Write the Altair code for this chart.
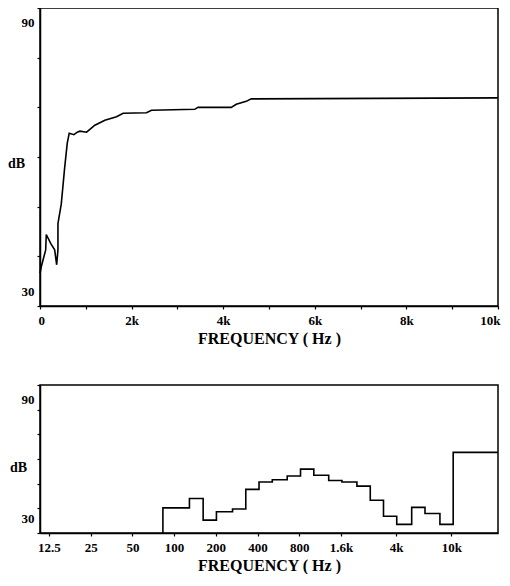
import altair as alt
import pandas as pd

# ---- top chart: narrow-band spectrum (Hz, dB)
top_freq_hz = [0, 28, 124, 137, 233, 320, 364, 392, 392, 464, 538, 595, 638, 741, 813, 871,
               1017, 1198, 1416, 1671, 1815, 2325, 2434, 3377, 3449, 4176, 4285, 4503, 4612, 10000]
top_db = [36.6, 37.9, 41.3, 44.4, 42.6, 41.3, 38.3, 41.3, 46.6, 50.5, 57.8, 62.8, 64.8, 64.5, 65.0, 65.2,
          65.0, 66.4, 67.4, 68.1, 68.8, 68.9, 69.4, 69.6, 70.0, 70.0, 70.6, 71.2, 71.7, 71.9]
top_tick_values = [0, 1000, 2000, 3000, 4000, 5000, 6000, 7000, 8000, 9000, 10000]
top_tick_labels = ["0", "", "2k", "", "4k", "", "6k", "", "8k", "", "10k"]

# ---- bottom chart: 1/3-octave band levels (band lower edges in Hz, dB)
band_edges_hz = [83, 129, 162, 202, 264, 329, 410, 511, 655, 817, 1019, 1305, 1626, 2085,
                 2603, 3243, 4041, 5181, 6463, 8283, 10325]
band_db = [40.2, 44.0, 35.2, 38.6, 39.7, 47.7, 50.7, 51.6, 53.1, 55.9, 53.4, 51.3, 50.7, 49.0,
           43.3, 36.8, 33.5, 40.4, 37.9, 33.5, 62.7]
band_end_hz = 21740
bottom_tick_values = [12.5, 25, 50, 100, 200, 400, 800, 1600, 4000, 10000]
bottom_tick_labels = ["12.5", "25", "50", "100", "200", "400", "800", "1.6k", "4k", "10k"]

y_ticks = [30, 40, 50, 60, 70, 80, 90]
y_labels = ["30", "", "", "", "", "", "90"]


def label_expr(values, labels):
    s = ""
    for v, l in zip(values, labels):
        s += f"datum.value == {v} ? '{l}' : "
    return s + "''"


FONT = "Liberation Serif"

top_df = pd.DataFrame({"f": top_freq_hz, "db": top_db, "i": range(len(top_db))})

step_f = [band_edges_hz[0]] + band_edges_hz + [band_end_hz]
step_db = [30] + band_db + [band_db[-1]]
bot_df = pd.DataFrame({"f": step_f, "db": step_db, "i": range(len(step_db))})


def y_axis(title_x, title_y):
    return alt.Axis(
        title="dB", titleAngle=0, titleX=title_x, titleY=title_y, titleAlign="center",
        titleBaseline="middle", titleFontSize=14, values=y_ticks,
        labelExpr=label_expr(y_ticks, y_labels),
        labelFlush=True, labelFlushOffset=-8, tickSize=3, labelPadding=3, grid=False,
    )


def x_axis(values, labels):
    return alt.Axis(title="FREQUENCY ( Hz )", values=values,
                    labelExpr=label_expr(values, labels),
                    tickSize=3, labelPadding=5, titlePadding=3, grid=False,
                    labelFlush=True, labelFlushOffset=2)


top = alt.Chart(top_df).mark_line(color="black", strokeWidth=1.6).encode(
    x=alt.X("f:Q", scale=alt.Scale(domain=[0, 10000], nice=False),
            axis=x_axis(top_tick_values, top_tick_labels)),
    y=alt.Y("db:Q", scale=alt.Scale(domain=[30, 90], nice=False, zero=False),
            axis=y_axis(-24, 155)),
    order="i:O",
).properties(width=458, height=298)

bottom = alt.Chart(bot_df).mark_line(color="black", strokeWidth=1.6, interpolate="step-after").encode(
    x=alt.X("f:Q", scale=alt.Scale(type="log", domain=[10.77, 21740], nice=False),
            axis=x_axis(bottom_tick_values, bottom_tick_labels)),
    y=alt.Y("db:Q", scale=alt.Scale(domain=[30, 90], nice=False, zero=False),
            axis=y_axis(-22, 82)),
    order="i:O",
).properties(width=458, height=148)

chart = alt.vconcat(top, bottom, spacing=36).properties(
    padding={"left": -2, "top": -2, "right": 0, "bottom": 0}
).configure_view(
    stroke="black", strokeWidth=1.5
).configure_axis(
    domainColor="black", domainWidth=1.5, tickColor="black", tickWidth=1.2,
    labelFont=FONT, labelFontWeight="bold", labelFontSize=13, labelColor="black",
    titleFont=FONT, titleFontWeight="bold", titleFontSize=16, titleColor="black",
    labelOverlap=False,
)

chart.save("out.html", embed_options={"renderer": "svg", "actions": False})
